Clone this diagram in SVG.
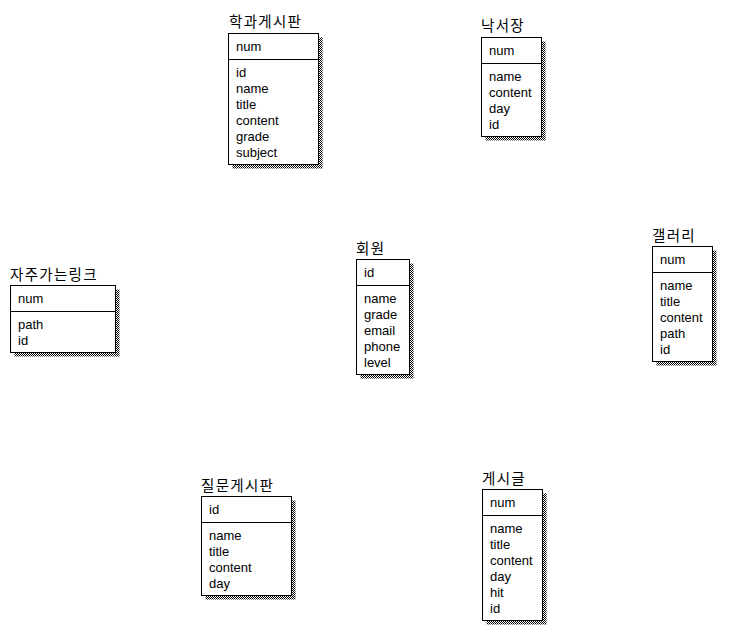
<svg xmlns="http://www.w3.org/2000/svg" width="753" height="642" viewBox="0 0 753 642">
<defs>
<pattern id="dither" patternUnits="userSpaceOnUse" width="2" height="2">
<rect x="0" y="0" width="1" height="1" fill="#000"/>
<rect x="1" y="1" width="1" height="1" fill="#000"/>
</pattern>
</defs>
<style>
.shadow{fill:url(#dither);}
.box{fill:#fff;stroke:#000;stroke-width:1;}
.sep{stroke:#000;stroke-width:1;}
.t{font-family:"Noto Sans CJK KR","Noto Sans",sans-serif;font-size:14.5px;letter-spacing:1.3px;fill:#000;}
.f{font-family:"Liberation Sans",Arial,sans-serif;font-size:13px;fill:#000;}
</style>
<rect width="753" height="642" fill="#fff"/>
<g id="connectors"></g>

<g id="n-hakgwa">
<rect class="shadow" x="232.5" y="37.5" width="90" height="131"/>
<rect class="box" x="228.5" y="33.5" width="90" height="131"/>
<line class="sep" x1="228.5" y1="59.5" x2="318.5" y2="59.5"/>
<text class="t" x="229" y="27">학과게시판</text>
<text class="f" x="236" y="51">num</text>
<text class="f" x="236" y="77">id</text>
<text class="f" x="236" y="93">name</text>
<text class="f" x="236" y="109">title</text>
<text class="f" x="236" y="125">content</text>
<text class="f" x="236" y="141">grade</text>
<text class="f" x="236" y="157">subject</text>
</g>

<g id="n-nakseo">
<rect class="shadow" x="485.5" y="41.5" width="60" height="99"/>
<rect class="box" x="481.5" y="37.5" width="60" height="99"/>
<line class="sep" x1="481.5" y1="63.5" x2="541.5" y2="63.5"/>
<text class="t" x="481" y="31">낙서장</text>
<text class="f" x="489" y="55">num</text>
<text class="f" x="489" y="81">name</text>
<text class="f" x="489" y="97">content</text>
<text class="f" x="489" y="113">day</text>
<text class="f" x="489" y="129">id</text>
</g>

<g id="n-link">
<rect class="shadow" x="14.5" y="289.5" width="105" height="67"/>
<rect class="box" x="10.5" y="285.5" width="105" height="67"/>
<line class="sep" x1="10.5" y1="311.5" x2="115.5" y2="311.5"/>
<text class="t" x="10" y="280">자주가는링크</text>
<text class="f" x="18" y="303">num</text>
<text class="f" x="18" y="329">path</text>
<text class="f" x="18" y="345">id</text>
</g>

<g id="n-member">
<rect class="shadow" x="360.5" y="263.5" width="53" height="115"/>
<rect class="box" x="356.5" y="259.5" width="53" height="115"/>
<line class="sep" x1="356.5" y1="285.5" x2="409.5" y2="285.5"/>
<text class="t" x="356" y="254">회원</text>
<text class="f" x="364" y="277">id</text>
<text class="f" x="364" y="303">name</text>
<text class="f" x="364" y="319">grade</text>
<text class="f" x="364" y="335">email</text>
<text class="f" x="364" y="351">phone</text>
<text class="f" x="364" y="367">level</text>
</g>

<g id="n-gallery">
<rect class="shadow" x="656.5" y="250.5" width="60" height="115"/>
<rect class="box" x="652.5" y="246.5" width="60" height="115"/>
<line class="sep" x1="652.5" y1="272.5" x2="712.5" y2="272.5"/>
<text class="t" x="652" y="241">갤러리</text>
<text class="f" x="660" y="264">num</text>
<text class="f" x="660" y="290">name</text>
<text class="f" x="660" y="306">title</text>
<text class="f" x="660" y="322">content</text>
<text class="f" x="660" y="338">path</text>
<text class="f" x="660" y="354">id</text>
</g>

<g id="n-question">
<rect class="shadow" x="205.5" y="500.5" width="90" height="99"/>
<rect class="box" x="201.5" y="496.5" width="90" height="99"/>
<line class="sep" x1="201.5" y1="522.5" x2="291.5" y2="522.5"/>
<text class="t" x="201" y="491">질문게시판</text>
<text class="f" x="209" y="514">id</text>
<text class="f" x="209" y="540">name</text>
<text class="f" x="209" y="556">title</text>
<text class="f" x="209" y="572">content</text>
<text class="f" x="209" y="588">day</text>
</g>

<g id="n-post">
<rect class="shadow" x="486.5" y="493.5" width="60" height="131"/>
<rect class="box" x="482.5" y="489.5" width="60" height="131"/>
<line class="sep" x1="482.5" y1="515.5" x2="542.5" y2="515.5"/>
<text class="t" x="482" y="484">게시글</text>
<text class="f" x="490" y="507">num</text>
<text class="f" x="490" y="533">name</text>
<text class="f" x="490" y="549">title</text>
<text class="f" x="490" y="565">content</text>
<text class="f" x="490" y="581">day</text>
<text class="f" x="490" y="597">hit</text>
<text class="f" x="490" y="613">id</text>
</g>
</svg>
